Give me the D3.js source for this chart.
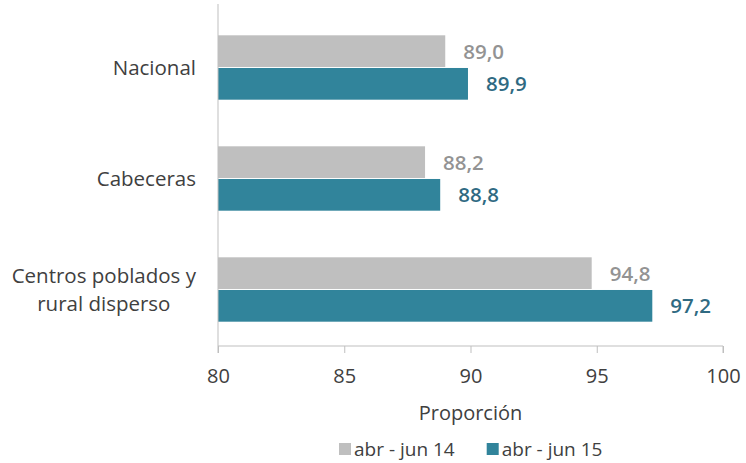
<!DOCTYPE html>
<html>
<head>
<meta charset="utf-8">
<script src="https://cdn.jsdelivr.net/npm/d3@7"></script>
<style>
  body { margin: 0; background: #fff; }
  svg { font-family: "Open Sans", sans-serif; }
</style>
</head>
<body>
<svg id="chart"></svg>
<script>
const categories = ["Nacional", "Cabeceras", "Centros poblados y\nrural disperso"];
const seriesNames = ["abr - jun 14", "abr - jun 15"];
const values14 = [89.0, 88.2, 94.8];
const values15 = [89.9, 88.8, 97.2];
const xTicks = [80, 85, 90, 95, 100];

const colors = ["#bfbfbf", "#31849b"];
const labelColors = ["#939393", "#2f6a82"];

const width = 746, height = 463;
const margin = { top: 12, right: 23, bottom: 118, left: 218 };

const svg = d3.select("#chart")
    .attr("width", width)
    .attr("height", height);

const x = d3.scaleLinear()
    .domain([80, 100])
    .range([margin.left, width - margin.right]);

const y = d3.scaleBand()
    .domain(categories)
    .range([margin.top, height - margin.bottom])
    .paddingInner(0.42)
    .paddingOuter(0.21);

const inner = d3.scaleBand()
    .domain([0, 1])
    .range([0, y.bandwidth()])
    .paddingInner(0.03);

const rows = categories.map((c, i) => ({ cat: c, vals: [values14[i], values15[i]] }));

// bars
const groups = svg.selectAll("g.group")
    .data(rows)
    .enter().append("g")
    .attr("class", "group")
    .attr("transform", d => `translate(0, ${y(d.cat)})`);

groups.selectAll("rect")
    .data(d => d.vals.map((v, k) => ({ v, k })))
    .enter().append("rect")
    .attr("x", x(80))
    .attr("y", d => inner(d.k))
    .attr("width", d => x(d.v) - x(80))
    .attr("height", inner.bandwidth())
    .attr("fill", d => colors[d.k]);

groups.selectAll("text.val")
    .data(d => d.vals.map((v, k) => ({ v, k })))
    .enter().append("text")
    .attr("class", "val")
    .attr("x", d => x(d.v) + 18)
    .attr("y", d => inner(d.k) + inner.bandwidth() / 2)
    .attr("dy", "0.36em")
    .attr("font-size", 20.5)
    .attr("font-weight", 600)
    .attr("fill", d => labelColors[d.k])
    .text(d => d3.format(".1f")(d.v).replace(".", ","));

// x axis
const xAxis = svg.append("g")
    .attr("transform", `translate(0, ${height - margin.bottom + 1})`)
    .call(d3.axisBottom(x).tickValues(xTicks).tickSize(7).tickPadding(16));
xAxis.selectAll("line, path").attr("stroke", "#bfbfbf");
xAxis.selectAll("text")
    .attr("font-size", 20)
    .attr("fill", "#404040")
    .style("font-family", "'Open Sans', sans-serif");
xAxis.select(".domain").attr("d", `M${x(80)},7V0H${x(100)}V7`);

// y axis line
svg.append("line")
    .attr("x1", x(80)).attr("x2", x(80))
    .attr("y1", 4).attr("y2", height - margin.bottom + 1)
    .attr("stroke", "#bfbfbf");

// category labels
categories.forEach(c => {
    const lines = c.split("\n");
    const t = svg.append("text")
        .attr("font-size", 20.5)
        .attr("fill", "#404040");
    const cy = y(c) + y.bandwidth() / 2;
    lines.forEach((ln, i) => {
        t.append("tspan")
            .attr("y", cy + (i - (lines.length - 1) / 2) * 28)
            .attr("dy", "0.35em")
            .text(ln);
    });
    const maxW = d3.max(t.selectAll("tspan").nodes(), n => n.getComputedTextLength());
    t.attr("text-anchor", "middle");
    t.selectAll("tspan").attr("x", x(80) - 22 - maxW / 2);
});

// axis title
svg.append("text")
    .attr("x", (x(80) + x(100)) / 2)
    .attr("y", 413)
    .attr("dy", "0.35em")
    .attr("text-anchor", "middle")
    .attr("font-size", 20)
    .attr("fill", "#404040")
    .text("Proporción");

// legend
const legend = svg.append("g").attr("transform", "translate(339, 449)");
let lx = 0;
seriesNames.forEach((s, k) => {
    const g = legend.append("g").attr("transform", `translate(${lx}, 0)`);
    g.append("rect")
        .attr("x", 0).attr("y", -6)
        .attr("width", 12).attr("height", 12)
        .attr("fill", colors[k]);
    const t = g.append("text")
        .attr("x", 15)
        .attr("dy", "0.35em")
        .attr("font-size", 19)
        .attr("fill", "#404040")
        .text(s);
    lx += 15 + t.node().getComputedTextLength() + 32;
});
</script>
</body>
</html>
